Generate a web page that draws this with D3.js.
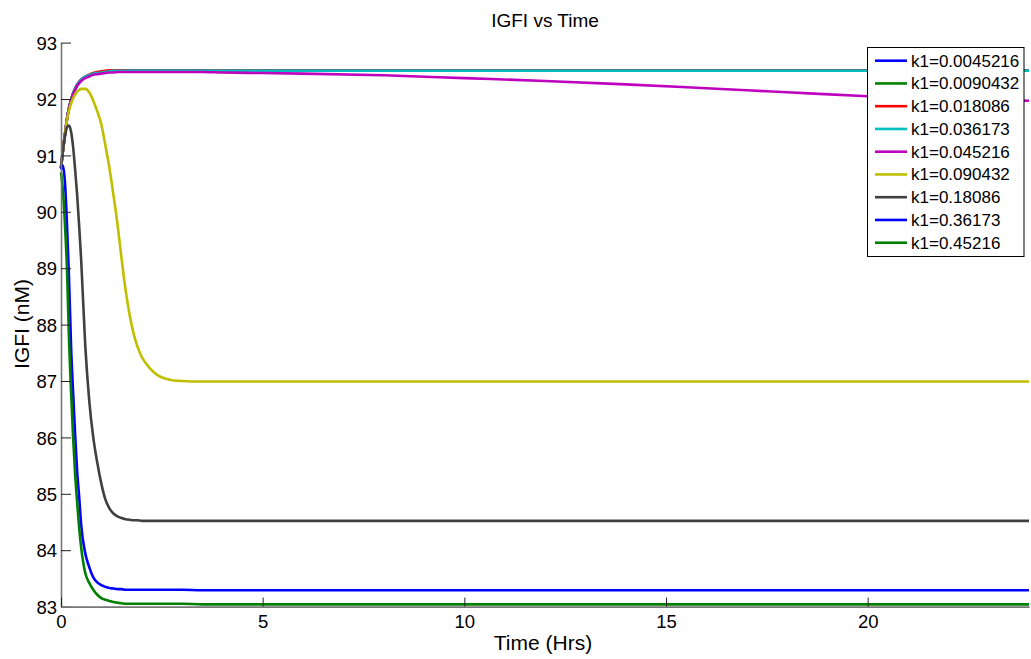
<!DOCTYPE html>
<html><head><meta charset="utf-8">
<script src="https://cdn.jsdelivr.net/npm/d3@7"></script>
<style>
body{margin:0;background:#fff}
svg{display:block;font-family:"Liberation Sans",Arial,sans-serif}
</style>
</head><body>
<svg id="c" width="1031" height="659"></svg>
<script>
// ---- data ----
const time = [0,0.05,0.1,0.15,0.2,0.25,0.3,0.35,0.4,0.45,0.5,
  0.6,0.7,0.8,0.9,1.0,1.1,1.2,1.3,1.4,1.5,1.6,1.7,1.8,1.9,2.0,
  2.2,2.4,2.6,2.8,3.0,3.5,4,5,6,8,10,12,14,16,18,20,22,24];

const k1Labels = ["k1=0.0045216","k1=0.0090432","k1=0.018086","k1=0.036173","k1=0.045216",
  "k1=0.090432","k1=0.18086","k1=0.36173","k1=0.45216"];

const igf_k1_0045216 = [90.78,91.10,91.38,91.65,91.85,91.98,92.10,92.18,92.25,92.30,92.34,
  92.39,92.42,92.45,92.46,92.47,92.48,92.49,92.50,92.50,92.50,92.50,92.50,92.50,92.50,92.50,
  92.50,92.50,92.50,92.50,92.50,92.50,92.50,92.50,92.50,92.50,92.50,92.50,92.50,92.50,92.50,92.50,92.50,92.50];
const igf_k1_0090432 = [90.78,91.10,91.38,91.65,91.85,91.98,92.10,92.18,92.25,92.30,92.34,
  92.39,92.42,92.45,92.46,92.47,92.48,92.49,92.50,92.50,92.50,92.50,92.50,92.50,92.50,92.50,
  92.50,92.50,92.50,92.50,92.50,92.50,92.50,92.50,92.50,92.50,92.50,92.50,92.50,92.50,92.50,92.50,92.50,92.50];
const igf_k1_018086 = [90.78,91.10,91.38,91.65,91.85,91.98,92.10,92.18,92.25,92.30,92.34,
  92.39,92.43,92.46,92.48,92.49,92.50,92.51,92.51,92.51,92.51,92.51,92.50,92.50,92.50,92.50,
  92.50,92.50,92.50,92.50,92.50,92.50,92.50,92.50,92.50,92.50,92.50,92.50,92.50,92.50,92.50,92.50,92.50,92.50];
const igf_k1_036173 = [90.78,91.10,91.38,91.65,91.85,91.98,92.10,92.18,92.25,92.30,92.34,
  92.39,92.42,92.45,92.46,92.47,92.48,92.49,92.50,92.50,92.50,92.50,92.50,92.50,92.50,92.50,
  92.50,92.50,92.50,92.50,92.50,92.50,92.50,92.50,92.50,92.50,92.50,92.50,92.50,92.50,92.50,92.50,92.50,92.50];
const igf_k1_045216 = [90.78,91.10,91.38,91.65,91.84,91.97,92.08,92.16,92.23,92.28,92.32,
  92.37,92.40,92.43,92.44,92.45,92.46,92.47,92.47,92.48,92.48,92.48,92.48,92.48,92.48,92.48,
  92.48,92.48,92.48,92.48,92.48,92.48,92.47,92.46,92.45,92.42,92.37,92.32,92.26,92.19,92.12,92.05,92.00,91.97];
const igf_k1_090432 = [90.78,91.10,91.38,91.63,91.80,91.92,92.01,92.08,92.13,92.16,92.18,
  92.18,92.12,91.97,91.78,91.55,91.18,90.78,90.30,89.78,89.18,88.62,88.18,87.84,87.60,87.43,
  87.23,87.10,87.04,87.01,87.00,86.99,86.99,86.99,86.99,86.99,86.99,86.99,86.99,86.99,86.99,86.99,86.99,86.99];
const igf_k1_18086 = [90.78,91.10,91.35,91.50,91.53,91.42,91.15,90.75,90.30,89.75,89.15,
  87.65,86.65,86.00,85.55,85.18,84.90,84.74,84.65,84.60,84.57,84.55,84.54,84.53,84.53,84.52,
  84.52,84.52,84.52,84.52,84.52,84.52,84.52,84.52,84.52,84.52,84.52,84.52,84.52,84.52,84.52,84.52,84.52,84.52];
const igf_k1_36173 = [90.75,90.82,90.50,89.75,88.80,87.60,86.80,86.05,85.40,84.95,84.45,
  83.95,83.70,83.52,83.43,83.38,83.35,83.33,83.32,83.31,83.31,83.30,83.30,83.30,83.30,83.30,
  83.30,83.30,83.30,83.30,83.30,83.29,83.29,83.29,83.29,83.29,83.29,83.29,83.29,83.29,83.29,83.29,83.29,83.29];
const igf_k1_45216 = [90.70,90.35,89.75,88.95,87.70,86.80,86.00,85.35,84.85,84.40,84.05,
  83.60,83.42,83.30,83.21,83.15,83.12,83.10,83.08,83.07,83.06,83.05,83.05,83.05,83.05,83.05,
  83.05,83.05,83.05,83.05,83.05,83.04,83.04,83.04,83.04,83.04,83.04,83.04,83.04,83.04,83.04,83.04,83.04,83.04];

const seriesValues = [igf_k1_0045216, igf_k1_0090432, igf_k1_018086, igf_k1_036173, igf_k1_045216,
  igf_k1_090432, igf_k1_18086, igf_k1_36173, igf_k1_45216];

const xTicks = [0,5,10,15,20];
const yTicks = [83,84,85,86,87,88,89,90,91,92,93];

// ---- styles ----
const colors = ["#0000ff","#008000","#ff0000","#00bfbf","#bf00bf","#bfbf00","#404040","#0000ff","#008000"];

const svg = d3.select("#c");
const x = d3.scaleLinear().domain([0,24]).range([61,1029]);
const y = d3.scaleLinear().domain([83,93]).range([606.6,42.6]);

// lines
const line = d3.line().x((d,i)=>x(time[i])).y(d=>y(d)).curve(d3.curveMonotoneX);
svg.append("g").selectAll("path").data(seriesValues).join("path")
  .attr("d", d=>line(d))
  .attr("fill","none")
  .attr("stroke",(d,i)=>colors[i])
  .attr("stroke-width",2.6)
  .attr("stroke-linejoin","round");

// axes
const yAxis = svg.append("g").attr("transform","translate(61,0)")
  .call(d3.axisLeft(y).tickValues(yTicks).tickFormat(d3.format("d")).tickSizeInner(-10).tickSizeOuter(0).tickPadding(4));
const xAxis = svg.append("g").attr("transform","translate(0,606.6)")
  .call(d3.axisBottom(x).tickValues(xTicks).tickFormat(d3.format("d")).tickSizeInner(-9).tickSizeOuter(0).tickPadding(8));
[yAxis,xAxis].forEach(g=>{
  g.select(".domain").attr("stroke","#777").attr("stroke-width",1.6);
  g.selectAll(".tick line").attr("stroke","#222").attr("stroke-width",1);
  g.selectAll("text").attr("fill","#000").style("font-size","18.5px").style("font-family","'Liberation Sans',Arial,sans-serif");
});
yAxis.selectAll("text").attr("dy","0.36em");

// title & labels
svg.append("text").attr("x",545).attr("y",27).attr("text-anchor","middle")
  .style("font-size","19px").text("IGFI vs Time");
svg.append("text").attr("x",543).attr("y",650).attr("text-anchor","middle")
  .style("font-size","21px").text("Time (Hrs)");
svg.append("text").attr("transform","translate(29,324) rotate(-90)").attr("text-anchor","middle")
  .style("font-size","21px").text("IGFI (nM)");

// legend
const lg = svg.append("g");
lg.append("rect").attr("x",867.5).attr("y",47.5).attr("width",156.5).attr("height",209)
  .attr("fill","#fff").attr("stroke","#000").attr("stroke-width",1);
const rows = lg.selectAll("g.row").data(k1Labels).join("g").attr("class","row")
  .attr("transform",(d,i)=>`translate(0,${60.7+i*22.75})`);
rows.append("line").attr("x1",875).attr("x2",907).attr("y1",0).attr("y2",0)
  .attr("stroke",(d,i)=>colors[i]).attr("stroke-width",2.6);
rows.append("text").attr("x",911).attr("y",0).attr("dy","0.35em")
  .style("font-size","17px").text(d=>d);
</script>
</body></html>
